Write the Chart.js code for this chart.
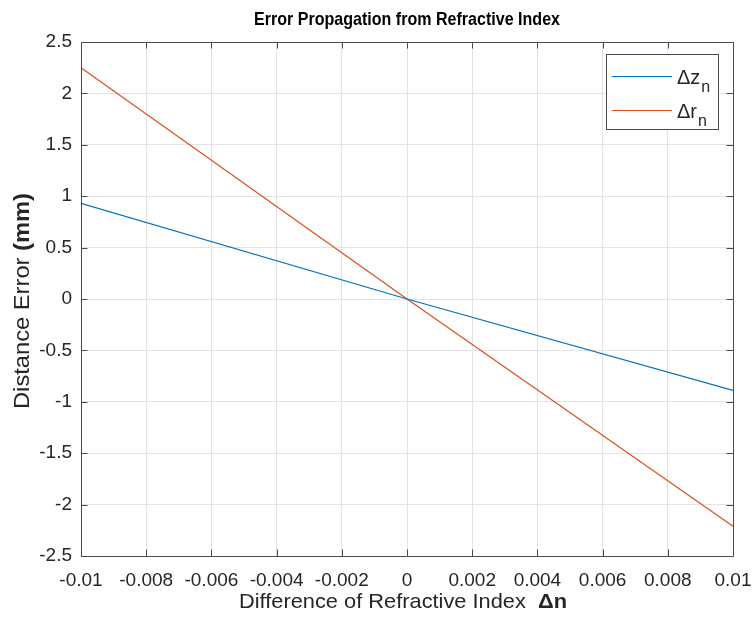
<!DOCTYPE html>
<html><head><meta charset="utf-8">
<script src="https://cdn.jsdelivr.net/npm/chart.js@4/dist/chart.umd.min.js"></script>
<style>html,body{margin:0;padding:0;background:#fff}#wrap{width:752px;height:618px}</style>
</head><body><div id="wrap"><canvas id="c" width="752" height="618"></canvas></div>
<script>
const titleText = "Error Propagation from Refractive Index";
const xLabelNormal = "Difference of Refractive Index  ";
const xLabelBold = "Δn";
const yLabelNormal = "Distance Error ";
const yLabelBold = "(mm)";
const xTicks = [-0.01,-0.008,-0.006,-0.004,-0.002,0,0.002,0.004,0.006,0.008,0.01];
const xTickLabels = ["-0.01","-0.008","-0.006","-0.004","-0.002","0","0.002","0.004","0.006","0.008","0.01"];
const yTicks = [-2.5,-2,-1.5,-1,-0.5,0,0.5,1,1.5,2,2.5];
const yTickLabels = ["-2.5","-2","-1.5","-1","-0.5","0","0.5","1","1.5","2","2.5"];
const dn = [-0.01, 0, 0.01];
const dz = [0.93, 0.0, -0.89];
const dr = [2.25, 0.0, -2.21];
const seriesNames = ["Δz", "Δr"];
const seriesSub = ["n", "n"];
const colors = ["#0072BD", "#D95319"];

const FONT = "'Liberation Sans', Arial, Helvetica, sans-serif";
const AXIS = "#4a4a4a";

function drawStretched(ctx, parts, cx, cy, targetW) {
  let total = 0;
  const widths = parts.map(p => { ctx.font = p.font; const w = ctx.measureText(p.text).width; total += w; return w; });
  const s = targetW / total;
  ctx.save();
  ctx.translate(cx, cy);
  ctx.scale(s, 1);
  let x0 = -total / 2;
  ctx.textAlign = "left";
  parts.forEach((p, i) => { ctx.font = p.font; ctx.fillText(p.text, x0, 0); x0 += widths[i]; });
  ctx.restore();
}

const deco = {
  id: 'deco',
  afterDraw(chart) {
    const {ctx, chartArea: a, scales: {x, y}} = chart;
    ctx.save();
    ctx.strokeStyle = AXIS; ctx.lineWidth = 1;
    ctx.beginPath();
    ctx.rect(Math.round(a.left)+0.5, Math.round(a.top)+0.5, Math.round(a.right - a.left), Math.round(a.bottom - a.top));
    ctx.stroke();
    const tl = 6.5;
    ctx.beginPath();
    xTicks.forEach(v => { const px = Math.round(x.getPixelForValue(v)) + 0.5;
      ctx.moveTo(px, a.bottom); ctx.lineTo(px, a.bottom - tl);
      ctx.moveTo(px, a.top); ctx.lineTo(px, a.top + tl); });
    yTicks.forEach(v => { const py = Math.round(y.getPixelForValue(v)) + 0.5;
      ctx.moveTo(a.left, py); ctx.lineTo(a.left + tl, py);
      ctx.moveTo(a.right, py); ctx.lineTo(a.right - tl, py); });
    ctx.stroke();
    const cxp = (a.left + a.right) / 2, cyp = (a.top + a.bottom) / 2;
    ctx.fillStyle = "#000"; ctx.textBaseline = "alphabetic";
    drawStretched(ctx, [{text: titleText, font: "bold 19px " + FONT}], cxp, 25, 306);
    ctx.fillStyle = "#262626";
    drawStretched(ctx, [{text: xLabelNormal, font: "21px " + FONT}, {text: xLabelBold, font: "bold 21px " + FONT}], cxp - 4, 608, 328);
    ctx.save();
    ctx.translate(29, cyp + 2); ctx.rotate(-Math.PI / 2);
    drawStretched(ctx, [{text: yLabelNormal, font: "22px " + FONT}, {text: yLabelBold, font: "bold 22px " + FONT}], 0, 0, 216);
    ctx.restore();
    const L = 606.5, T = 54.5, R = 718.5, B = 129.5;
    ctx.fillStyle = "#fff"; ctx.fillRect(L, T, R - L, B - T);
    ctx.strokeStyle = AXIS; ctx.strokeRect(L, T, R - L, B - T);
    const rows = [76.5, 110.5];
    rows.forEach((ry, i) => {
      ctx.strokeStyle = colors[i]; ctx.lineWidth = 1;
      ctx.beginPath(); ctx.moveTo(612, ry); ctx.lineTo(672, ry); ctx.stroke();
      ctx.fillStyle = "#262626";
      ctx.font = "20px " + FONT; ctx.textAlign = "left";
      ctx.fillText(seriesNames[i], 677, ry + 7);
      const nw = ctx.measureText(seriesNames[i]).width;
      ctx.font = "16px " + FONT;
      ctx.fillText(seriesSub[i], 677 + nw + 1, ry + 15);
    });
    ctx.restore();
  }
};

new Chart(document.getElementById('c'), {
  type: 'scatter',
  data: {
    datasets: [
      { label: "Δz_n", data: dn.map((v, i) => ({x: v, y: dz[i]})), showLine: true, borderColor: colors[0], borderWidth: 1.2, pointRadius: 0, fill: false },
      { label: "Δr_n", data: dn.map((v, i) => ({x: v, y: dr[i]})), showLine: true, borderColor: colors[1], borderWidth: 1.2, pointRadius: 0, fill: false }
    ]
  },
  options: {
    responsive: false, animation: false,
    layout: { padding: { left: 0, top: 42, right: 19, bottom: 0 } },
    plugins: { legend: { display: false }, title: { display: false }, tooltip: { enabled: false } },
    scales: {
      x: {
        type: 'linear', min: -0.01, max: 0.01,
        afterFit(s) { s.height = 62; s.paddingLeft = 0; s.paddingRight = 0; },
        afterBuildTicks(s) { s.ticks = xTicks.map(v => ({value: v})); },
        ticks: { callback: (v) => { const i = xTicks.findIndex(t => Math.abs(t - v) < 1e-9); return i >= 0 ? xTickLabels[i] : ''; },
          font: { family: FONT, size: 19 }, color: "#262626", padding: 13, maxRotation: 0, autoSkip: false },
        grid: { color: "#e3e3e3", drawTicks: false },
        border: { display: false }
      },
      y: {
        type: 'linear', min: -2.5, max: 2.5,
        afterFit(s) { s.width = 81; s.paddingTop = 0; s.paddingBottom = 0; },
        afterBuildTicks(s) { s.ticks = yTicks.map(v => ({value: v})); },
        ticks: { callback: (v) => { const i = yTicks.findIndex(t => Math.abs(t - v) < 1e-9); return i >= 0 ? yTickLabels[i] : ''; },
          font: { family: FONT, size: 19 }, color: "#262626", padding: 9, autoSkip: false },
        grid: { color: "#e3e3e3", drawTicks: false },
        border: { display: false }
      }
    }
  },
  plugins: [deco]
});
</script></body></html>
